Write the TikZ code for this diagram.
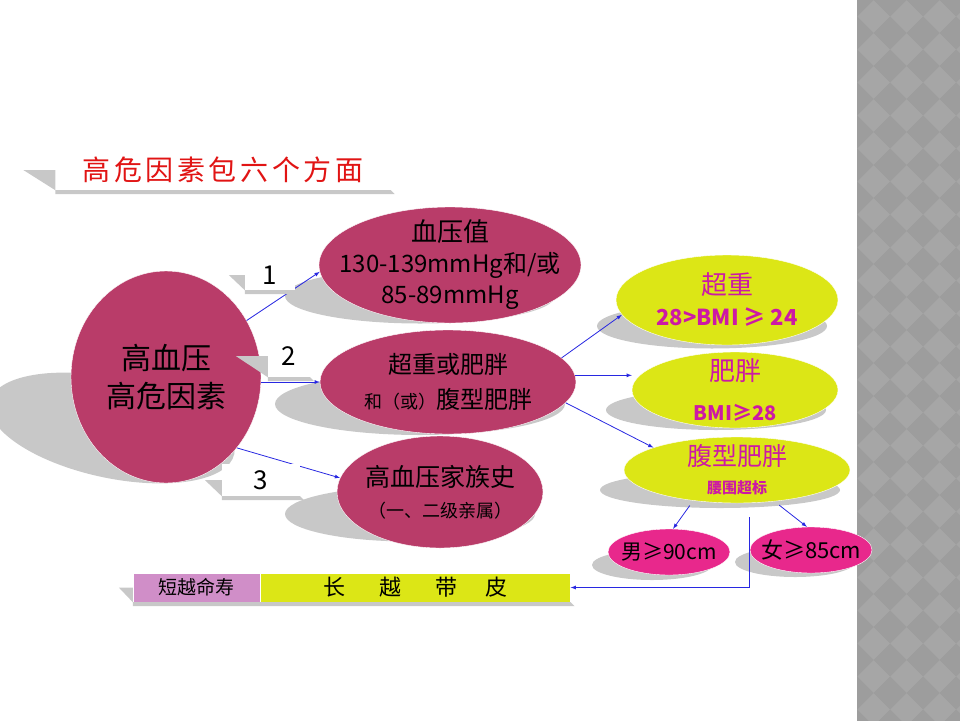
\documentclass[tikz,border=0pt]{standalone}
\usepackage{fontspec}
\setmainfont{Noto Sans CJK SC}
\newfontfamily\bannerfont[LetterSpace=13]{Noto Sans CJK SC}
\usetikzlibrary{positioning, shapes.geometric}

\definecolor{berry}{RGB}{185,60,105}
\definecolor{lime}{RGB}{220,230,22}
\definecolor{hotpink}{RGB}{232,40,140}
\definecolor{lilac}{RGB}{208,142,200}
\definecolor{plum}{RGB}{205,25,165}
\definecolor{shadowgray}{RGB}{200,200,200}
\definecolor{arrowblue}{RGB}{40,40,225}
\definecolor{titlered}{RGB}{225,20,20}
\definecolor{stripe}{RGB}{166,166,166}
\definecolor{stripedark}{RGB}{157,157,157}

% slanted shadow behind a box (left node, right node, tail length)
\newcommand\backshade[3]{%
  \fill[shadowgray] ([xshift=-#3]#1.west) -- (#1.west) -- ([yshift=-4pt]#1.south west)
    -- ([shift={(4pt,-4pt)}]#2.south east) -- (#2.south east) -- (#1.south west) -- cycle;}

\begin{document}
\begin{tikzpicture}[x=1pt, y=-1pt, >=latex,
    blob/.style={ellipse, draw=white, thin, inner xsep=-25pt, inner ysep=-15pt, align=center},
    berryblob/.style={blob, fill=berry},
    limeblob/.style={blob, fill=lime, text=plum},
    pinkblob/.style={blob, fill=hotpink},
    shade/.style={ellipse, fill=shadowgray, inner sep=0pt},
    numtag/.style={fill=white, inner sep=0pt, font=\fontsize{26}{28}\selectfont},
    link/.style={->, thick, arrowblue}]
    \useasboundingbox (0,0) rectangle (960,720);

    % patterned strip on the right
    \fill[stripe] (857,-10) rectangle (970,730);
    \begin{scope}
        \clip (857,-10) rectangle (970,730);
        \foreach \i in {0,...,4}
            \foreach \j in {0,...,23}
                \fill[stripedark] ({857+33*\i},{33*\j}) +(-16.5,0) -- +(0,-16.5) -- +(16.5,0) -- +(0,16.5) -- cycle;
    \end{scope}

    % title banner
    \node[fill=white, minimum width=335, minimum height=40, inner sep=0pt, text=titlered, font=\bannerfont\fontsize{28}{30}\selectfont] (title) at (223,170) {高危因素包六个方面};
    \backshade{title}{title}{32pt}

    % shadows under the ellipses
    \node[shade, minimum width=250, minimum height=100, rotate=-12] (risk-shade) at (112,428) {};
    \node[shade, minimum width=270, minimum height=55] (bp-shade) at (420,296) {};
    \node[shade, minimum width=290, minimum height=62] (weight-shade) at (420,404) {};
    \node[shade, minimum width=250, minimum height=55] (family-shade) at (410,514) {};
    \node[shade, minimum width=230, minimum height=45] (over-shade) at (712,326) {};
    \node[shade, minimum width=220, minimum height=40] (obese-shade) at (716,410) {};
    \node[shade, minimum width=240, minimum height=36] (waist-shade) at (720,490) {};
    \node[shade, minimum width=120, minimum height=30] (male-shade) at (652,565) {};
    \node[shade, minimum width=120, minimum height=30] (female-shade) at (795,562) {};

    % risk factors
    \node[berryblob, minimum width=190, minimum height=212, font=\fontsize{30}{38}\selectfont] (risk) at (166,377) {高血压\\高危因素};
    \node[berryblob, minimum width=262, minimum height=116, font=\fontsize{24}{31}\selectfont] (bp) at (450,265)
        {{\fontsize{26}{31}\selectfont 血压值}\\130-139mmHg和/或\\85-89mmHg};
    \node[berryblob, minimum width=256, minimum height=104, font=\fontsize{24}{35}\selectfont] (weight) at (448,382)
        {超重或肥胖\\{\fontsize{18}{35}\selectfont 和（或）}腹型肥胖};
    \node[berryblob, minimum width=206, minimum height=112, font=\fontsize{25}{31}\selectfont] (family) at (440,492)
        {高血压家族史\\{\fontsize{18}{31}\selectfont （一、二级亲属）}};

    % body weight
    \node[limeblob, minimum width=222, minimum height=90, font=\bfseries\fontsize{22}{31}\selectfont] (over) at (727,300)
        {{\mdseries\fontsize{26}{31}\selectfont 超重}\\28>BMI ≥ 24};
    \node[limeblob, minimum width=206, minimum height=76, font=\bfseries\fontsize{20}{40}\selectfont] (obese) at (735,390)
        {{\mdseries\fontsize{26}{40}\selectfont 肥胖}\\BMI≥28};
    \node[limeblob, minimum width=226, minimum height=66, font=\bfseries\fontsize{15}{28}\selectfont] (waist) at (737,470)
        {{\mdseries\fontsize{25}{28}\selectfont 腹型肥胖}\\腰围超标};
    \node[pinkblob, minimum width=122, minimum height=46, font=\fontsize{21}{24}\selectfont] (male) at (669,552) {男≥90cm};
    \node[pinkblob, minimum width=122, minimum height=46, font=\fontsize{22}{24}\selectfont] (female) at (811,550) {女≥85cm};

    \draw[link] (risk.35) -- (bp.183);
    \draw[link] (weight.west -| risk.east) -- (weight.west);
    \draw[link] (risk.-45) -- (family.172);
    \draw[link] (weight.12) -- (over.188);
    \draw[link] (weight.3) -- (weight.3 -| obese.west);
    \draw[link] (weight.-10) -- (waist.165);
    \draw[link, shorten <=6pt] (waist.-145) -- (male.80);
    \draw[link, shorten <=6pt] (waist.-40) -- (female.100);

    % life bar
    \node[fill=lilac, draw=white, minimum width=127, minimum height=29, inner sep=0pt, font=\fontsize{19}{20}\selectfont] (short) at (196.5,587.5) {短越命寿};
    \node[fill=lime, draw=white, minimum width=310, minimum height=29, inner sep=0pt, right=0pt of short, font=\fontsize{22}{24}\selectfont] (life) {长\hspace{34pt}越\hspace{34pt}带\hspace{28pt}皮};
    \backshade{short}{life}{14pt}
    \draw[link] ([shift={(12pt,-14pt)}]waist.south) |- (life.east);

    % numbered tags
    \node[numtag, minimum width=50, minimum height=30] (tag1) at (270,275) {1};
    \node[numtag, minimum width=42, minimum height=42] (tag2) at (289,356) {2};
    \node[numtag, minimum width=78, minimum height=32] (tag3) at (261,480) {3};
    \backshade{tag1}{tag1}{16pt}
    \backshade{tag2}{tag2}{32pt}
    \backshade{tag3}{tag3}{17pt}
\end{tikzpicture}
\end{document}
